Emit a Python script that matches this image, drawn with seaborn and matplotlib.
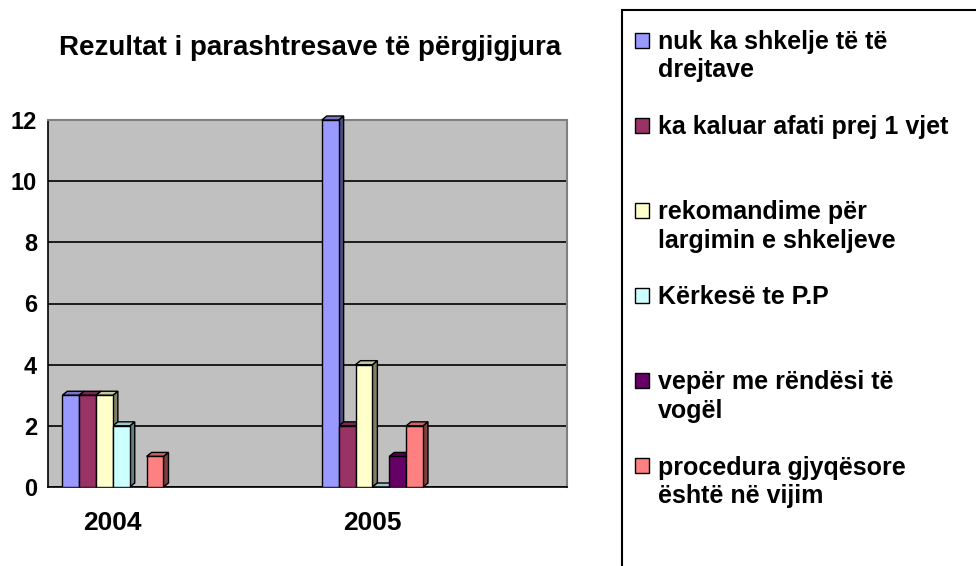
import numpy as np
import pandas as pd
import matplotlib
matplotlib.use("Agg")
import matplotlib.pyplot as plt
import matplotlib.colors as mcolors
from matplotlib.patches import Patch, Polygon, Rectangle
import seaborn as sns

# ---- data ----
years = ["2004", "2005"]
series_labels = [
    "nuk ka shkelje të të\ndrejtave",
    "ka kaluar afati prej 1 vjet",
    "rekomandime për\nlargimin e shkeljeve",
    "Kërkesë te P.P",
    "vepër me rëndësi të\nvogël",
    "procedura gjyqësore\nështë në vijim",
]
nuk_ka_shkelje = [3, 12]
ka_kaluar_afati = [3, 2]
rekomandime = [3, 4]
kerkese_pp = [2, 0]
veper_rendesi = [np.nan, 1]
procedura = [1, 2]
series_values = [nuk_ka_shkelje, ka_kaluar_afati, rekomandime,
                 kerkese_pp, veper_rendesi, procedura]
colors = ["#9999FF", "#993366", "#FFFFCC", "#CCFFFF", "#660066", "#FF8080"]
yticks = [0, 2, 4, 6, 8, 10, 12]
title = "Rezultat i parashtresave të përgjigjura"

rows = []
for lab, vals in zip(series_labels, series_values):
    for yr, v in zip(years, vals):
        rows.append({"year": yr, "series": lab, "value": v})
df = pd.DataFrame(rows)

# ---- style ----
sns.set_style("white")
plt.rcParams["font.family"] = ["Liberation Sans", "DejaVu Sans"]
plt.rcParams["font.weight"] = "bold"
plt.rcParams["text.color"] = "black"
plt.rcParams["xtick.color"] = "black"
plt.rcParams["ytick.color"] = "black"

fig = plt.figure(figsize=(9.76, 5.66), dpi=100)
W, H = 976, 566
ax = fig.add_axes([48 / W, 1 - 487 / H, (567 - 48) / W, (487 - 120) / H])
ax.set_facecolor("#C0C0C0")

sns.barplot(data=df, x="year", y="value", hue="series", hue_order=series_labels,
            palette=colors, saturation=1, width=0.39, errorbar=None,
            edgecolor="black", linewidth=1.0, ax=ax, legend=False, zorder=3)

ax.set_xlim(-0.25, 1.75)
ax.set_ylim(0, 12)

# pseudo 3D faces derived from the bars drawn by seaborn
px_x = (567 - 48) / 2.0
px_y = (487 - 120) / 12.0
dx = 5 / px_x
dy = 4 / px_y
bar_patches = [p for p in ax.patches if isinstance(p, Rectangle)]
for p in bar_patches:
    h = p.get_height()
    if not np.isfinite(h):
        continue
    x0 = p.get_x()
    w = p.get_width()
    fc = np.array(mcolors.to_rgb(p.get_facecolor()))
    side = Polygon([(x0 + w, 0), (x0 + w + dx, dy), (x0 + w + dx, h + dy), (x0 + w, h)],
                   closed=True, facecolor=fc * 0.5, edgecolor="black", lw=1.0,
                   zorder=2.9, clip_on=False)
    top = Polygon([(x0, h), (x0 + dx, h + dy), (x0 + w + dx, h + dy), (x0 + w, h)],
                  closed=True, facecolor=fc * 0.78, edgecolor="black", lw=1.0,
                  zorder=2.9, clip_on=False)
    ax.add_patch(side)
    ax.add_patch(top)

# grid
ax.set_yticks(yticks)
ax.yaxis.grid(True, color="black", lw=1.2, zorder=1)
ax.set_axisbelow(True)
ax.set_xticks([0, 1])
ax.set_xticklabels(years)
ax.set_xticks([-0.25, 0.25, 0.75, 1.25, 1.75], minor=True)
ax.tick_params(axis="x", which="major", length=0, pad=17, labelsize=19)
ax.tick_params(axis="x", which="minor", length=5, width=1, color="black", direction="out")
ax.tick_params(axis="y", length=5, width=1, color="black", direction="out", pad=3, labelsize=17)
for lab in ax.get_xticklabels() + ax.get_yticklabels():
    lab.set_fontweight("bold")
ax.set_xlabel("")
ax.set_ylabel("")

for s in ["left", "bottom"]:
    ax.spines[s].set_color("black")
    ax.spines[s].set_linewidth(1.2)
for s in ["top", "right"]:
    ax.spines[s].set_color("#808080")
    ax.spines[s].set_linewidth(1.5)

fig.text(310 / W, 1 - 48 / H, title, ha="center", va="center",
         fontsize=20, fontweight="bold", color="black")

# legend, one row per text line
handles, labels = [], []
for lab, col in zip(series_labels, colors):
    lines = lab.split("\n")
    for i in range(3):
        if i == 0:
            handles.append(Patch(facecolor=col, edgecolor="black", lw=1.0))
        else:
            handles.append(Patch(facecolor="none", edgecolor="none"))
        labels.append(lines[i] if i < len(lines) else "")
handles, labels = handles[:-1], labels[:-1]

leg = fig.legend(handles, labels, loc="upper left",
                 bbox_to_anchor=(635 / W, 1 - 30 / H),
                 frameon=False, borderpad=0, borderaxespad=0,
                 handlelength=0.55, handleheight=0.55, handletextpad=0.36,
                 labelspacing=0.175, prop={"size": 18, "weight": "bold"})
for t in leg.get_texts():
    t.set_color("black")

fig.patches.append(Rectangle((622 / W, -0.1), 0.6, 1 - 10 / H + 0.1,
                             transform=fig.transFigure, facecolor="none",
                             edgecolor="black", lw=1.5))

fig.savefig("out.png", dpi=100)
